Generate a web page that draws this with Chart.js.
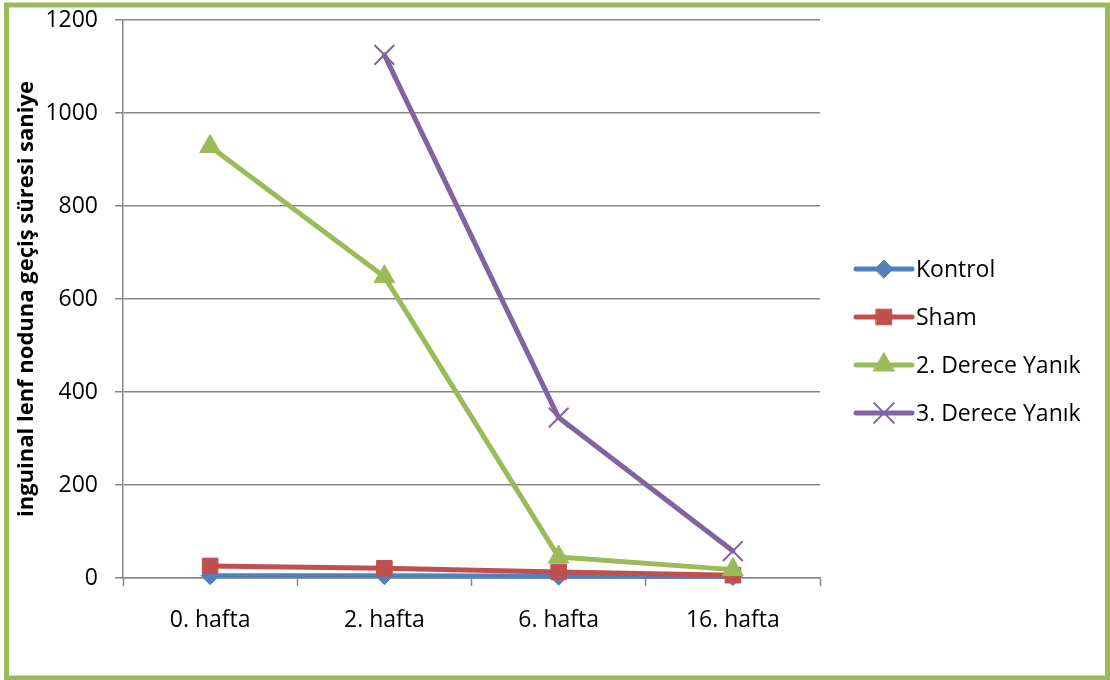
<!DOCTYPE html>
<html>
<head>
<meta charset="utf-8">
<script src="https://cdn.jsdelivr.net/npm/chart.js@4/dist/chart.umd.min.js"></script>
<style>
  html, body { margin: 0; padding: 0; background: #ffffff; }
  #wrap { width: 1110px; height: 680px; position: relative; }
</style>
</head>
<body>
<div id="wrap"><canvas id="c" width="1110" height="680"></canvas></div>
<script>
// Weeks after the procedure
const categories = ['0. hafta', '2. hafta', '6. hafta', '16. hafta'];
// Passage time to the inguinal lymph node (seconds) per group
const kontrol = [5, 5, 4, 3];
const sham = [26, 21, 13, 6];
const derece2 = [928, 648, 45, 18];
const derece3 = [null, 1125, 345, 58];
// Value axis ticks
const yTicks = [0, 200, 400, 600, 800, 1000, 1200];

const FONT = '"Open Sans", "Noto Sans", sans-serif';
const GRID = '#868686';

function series(label, data, color, style, radius, pbw) {
  return {
    label, data,
    borderColor: color,
    backgroundColor: color,
    borderWidth: 5,
    borderCapStyle: 'round',
    borderJoinStyle: 'round',
    pointStyle: style,
    pointRadius: radius,
    pointHoverRadius: radius,
    pointBackgroundColor: color,
    pointBorderColor: color,
    pointBorderWidth: pbw,
    tension: 0,
    clip: false
  };
}

// White page with the green frame
const framePlugin = {
  id: 'frame',
  beforeDraw(chart) {
    const ctx = chart.ctx;
    ctx.save();
    ctx.fillStyle = '#ffffff';
    ctx.fillRect(0, 0, chart.width, chart.height);
    ctx.restore();
  },
  afterDraw(chart) {
    const ctx = chart.ctx;
    ctx.save();
    ctx.strokeStyle = '#9bbb59';
    ctx.lineWidth = 5;
    ctx.strokeRect(6.5, 5, 1101, 673);
    ctx.restore();
  }
};

// Legend on the right: line sample with marker, then the series name
const sideLegend = {
  id: 'sideLegend',
  afterDraw(chart) {
    const ctx = chart.ctx;
    const x0 = 856, x1 = 912, tx = 916, y0 = 269, dy = 48;
    chart.data.datasets.forEach((ds, i) => {
      const y = y0 + i * dy;
      ctx.save();
      ctx.strokeStyle = ds.borderColor;
      ctx.lineWidth = ds.borderWidth;
      ctx.lineCap = 'round';
      ctx.beginPath();
      ctx.moveTo(x0, y);
      ctx.lineTo(x1, y);
      ctx.stroke();
      ctx.fillStyle = ds.pointBackgroundColor;
      ctx.strokeStyle = ds.pointBorderColor;
      ctx.lineWidth = ds.pointBorderWidth;
      Chart.helpers.drawPoint(ctx, {
        pointStyle: ds.pointStyle,
        radius: ds.pointRadius,
        borderWidth: ds.pointBorderWidth,
        rotation: 0
      }, (x0 + x1) / 2, y);
      ctx.fillStyle = '#000000';
      ctx.font = '23px ' + FONT;
      ctx.textBaseline = 'middle';
      ctx.textAlign = 'left';
      ctx.fillText(ds.label, tx, y + 1);
      ctx.restore();
    });
  }
};

const datasets = [
  series('Kontrol', kontrol, '#4f81bd', 'rectRot', 9, 1),
  series('Sham', sham, '#c0504d', 'rect', 11, 1),
  series('2. Derece Yanık', derece2, '#9bbb59', 'triangle', 12, 1),
  series('3. Derece Yanık', derece3, '#8064a2', 'crossRot', 14, 2)
];
// later series are drawn above earlier ones
datasets.forEach((d, i) => { d.order = datasets.length - i; });

new Chart(document.getElementById('c'), {
  type: 'line',
  data: { labels: categories, datasets },
  plugins: [framePlugin, sideLegend],
  options: {
    responsive: false,
    devicePixelRatio: 1,
    animation: false,
    layout: { padding: { left: 10, top: 20, right: 290, bottom: 10 } },
    plugins: {
      legend: { display: false },
      tooltip: { enabled: false },
      title: { display: false }
    },
    scales: {
      x: {
        offset: true,
        grid: {
          offset: true,
          drawOnChartArea: false,
          drawTicks: true,
          tickLength: 8,
          tickColor: GRID,
          tickWidth: 1.5
        },
        border: { display: true, color: GRID, width: 1.5 },
        ticks: {
          color: '#000000',
          font: { family: FONT, size: 23 },
          padding: 21,
          maxRotation: 0,
          autoSkip: false
        },
        afterFit(scale) {
          scale.height = 680 - 578 - 10;
          scale.paddingLeft = 0;
          scale.paddingRight = 0;
        }
      },
      y: {
        min: 0,
        max: 1200,
        afterBuildTicks(scale) { scale.ticks = yTicks.map(v => ({ value: v })); },
        grid: {
          color: GRID,
          lineWidth: 1.5,
          drawTicks: true,
          tickLength: 8,
          tickColor: GRID
        },
        border: { display: true, color: GRID, width: 1.5 },
        ticks: {
          color: '#000000',
          font: { family: FONT, size: 23 },
          padding: 17,
          callback: (v) => String(v)
        },
        title: {
          display: true,
          text: 'inguinal lenf noduna geçiş süresi saniye',
          color: '#000000',
          font: { family: FONT, size: 22, weight: 'bold' },
          padding: { top: 4, bottom: 0 }
        },
        afterFit(scale) {
          scale.width = 123 - 10;
          scale.paddingTop = 0;
          scale.paddingBottom = 0;
        }
      }
    }
  }
});
</script>
</body>
</html>
